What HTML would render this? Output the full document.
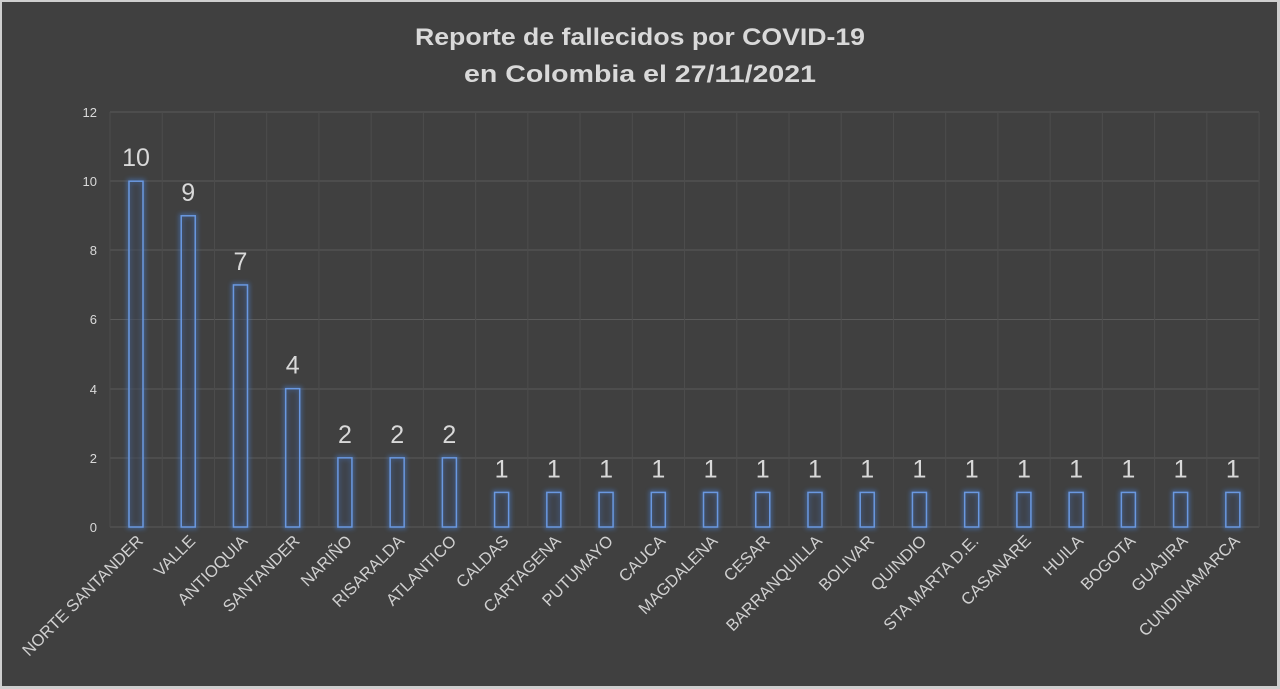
<!DOCTYPE html>
<html><head><meta charset="utf-8"><style>
html,body{margin:0;padding:0;background:#d0d0d0;}
svg{display:block;font-family:"Liberation Sans",sans-serif;}
</style></head><body>
<svg width="1280" height="689" viewBox="0 0 1280 689" xmlns="http://www.w3.org/2000/svg">
<defs>
<filter id="g" x="-100%" y="-20%" width="300%" height="140%"><feGaussianBlur stdDeviation="2.5"/></filter>
</defs>
<rect x="0" y="0" width="1280" height="689" fill="#cfcfcf"/>
<rect x="2" y="2" width="1275" height="684" fill="#404040"/>
<text x="640" y="45" text-anchor="middle" font-size="24" font-weight="bold" fill="#d9d9d9" textLength="450" lengthAdjust="spacingAndGlyphs">Reporte de fallecidos por COVID-19</text>
<text x="640" y="82" text-anchor="middle" font-size="24" font-weight="bold" fill="#d9d9d9" textLength="352" lengthAdjust="spacingAndGlyphs">en Colombia el 27/11/2021</text>
<g stroke="#5a5a5a" stroke-width="1">
<line x1="110" y1="112" x2="1259" y2="112"/>
<line x1="110" y1="181" x2="1259" y2="181"/>
<line x1="110" y1="250" x2="1259" y2="250"/>
<line x1="110" y1="319.5" x2="1259" y2="319.5"/>
<line x1="110" y1="389" x2="1259" y2="389"/>
<line x1="110" y1="458" x2="1259" y2="458"/>
<line x1="110" y1="527" x2="1259" y2="527"/>
</g>
<g stroke="#4d4d4d" stroke-width="1" id="vg"></g>
<g font-size="13" fill="#d9d9d9" text-anchor="end">
<text x="97" y="117">12</text><text x="97" y="186">10</text><text x="97" y="255">8</text>
<text x="97" y="324">6</text><text x="97" y="394">4</text><text x="97" y="463">2</text><text x="97" y="532">0</text>
</g>
<g id="bars"></g>
</svg>
<script>
var names=["NORTE SANTANDER","VALLE","ANTIOQUIA","SANTANDER","NARIÑO","RISARALDA","ATLANTICO","CALDAS","CARTAGENA","PUTUMAYO","CAUCA","MAGDALENA","CESAR","BARRANQUILLA","BOLIVAR","QUINDIO","STA MARTA D.E.","CASANARE","HUILA","BOGOTA","GUAJIRA","CUNDINAMARCA"];
var vals=[10,9,7,4,2,2,2,1,1,1,1,1,1,1,1,1,1,1,1,1,1,1];
var s="",v="";
for(var i=0;i<=22;i++){var x=110+i*52.23;v+='<line x1="'+x+'" y1="112" x2="'+x+'" y2="527"/>';}
document.getElementById("vg").innerHTML=v;
for(var i=0;i<22;i++){var cx=136+i*52.23,h=vals[i]*34.58,ty=527-h;
s+='<rect x="'+(cx-7)+'" y="'+ty+'" width="14" height="'+h+'" fill="none" stroke="#4a7fd0" stroke-width="4" opacity="0.6" filter="url(#g)"/>';
s+='<rect x="'+(cx-7)+'" y="'+ty+'" width="14" height="'+h+'" fill="#3d4656" fill-opacity="0.5" stroke="#6a98e0" stroke-width="1.5"/>';
s+='<text x="'+cx+'" y="'+(ty-15)+'" text-anchor="middle" font-size="25" fill="#d9d9d9">'+vals[i]+'</text>';
s+='<text transform="translate('+(cx+8)+',542) rotate(-45)" text-anchor="end" font-size="16.5" fill="#d0d0d0">'+names[i]+'</text>';}
document.getElementById("bars").innerHTML=s;
</script>
</body></html>
